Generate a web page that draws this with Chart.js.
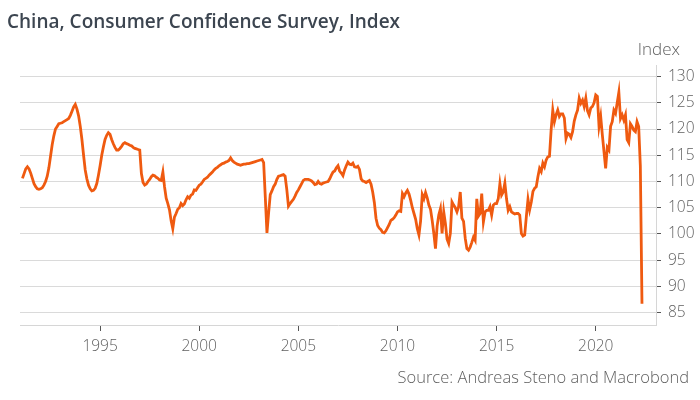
<!DOCTYPE html>
<html>
<head>
<meta charset="utf-8">
<script src="https://cdn.jsdelivr.net/npm/chart.js@4"></script>
<style>
  html, body { margin: 0; padding: 0; background: #fff; }
  #chart { display: block; }
</style>
</head>
<body>
<canvas id="chart" width="700" height="400"></canvas>
<script>
// ---------------- DATA (monthly, Jan 1991 - Apr 2022) ----------------
const startYear = 1991;
const xTicks = [1995, 2000, 2005, 2010, 2015, 2020];
const yTicks = [85, 90, 95, 100, 105, 110, 115, 120, 125, 130];

const cci1991to1996 = [
  110.6, 111.5, 112.4, 112.8, 112.4, 111.6, 110.6, 109.6, 109.0, 108.6, 108.5, 108.6,
  108.8, 109.3, 110.0, 111.0, 112.6, 114.8, 117.0, 118.7, 120.0, 120.5, 121.0, 121.1,
  121.2, 121.4, 121.6, 121.8, 122.0, 122.6, 123.4, 124.2, 124.7, 123.8, 122.5, 120.5,
  118.0, 115.0, 112.2, 110.5, 109.3, 108.6, 108.2, 108.3, 108.7, 109.6, 111.2, 113.0,
  115.0, 116.6, 118.0, 118.8, 119.3, 119.0, 118.0, 117.2, 116.5, 116.0, 116.0, 116.3,
  116.7, 117.2, 117.4, 117.2, 117.1, 116.9, 116.8, 116.5, 116.3, 116.2, 116.1, 116.0
];
const cci1997to2002 = [
  111.5, 109.8, 109.3, 109.5, 110.0, 110.4, 110.9, 111.2, 111.1, 110.8, 110.6, 110.3,
  110.2, 111.8, 109.0, 106.8, 105.8, 104.6, 102.5, 101.0, 103.2, 103.9, 104.7, 105.0,
  105.8, 105.4, 105.7, 106.5, 107.1, 106.8, 107.4, 107.6, 108.4, 108.3, 108.8, 109.3,
  109.5, 109.9, 110.4, 110.6, 110.8, 111.2, 111.5, 111.8, 112.2, 112.5, 112.7, 113.0,
  113.2, 113.4, 113.5, 113.7, 113.8, 114.0, 114.5, 114.0, 113.7, 113.5, 113.3, 113.2,
  113.1, 113.2, 113.3, 113.3, 113.4, 113.4, 113.5, 113.6, 113.7, 113.8, 113.9, 114.0
];
const cci2003to2008 = [
  114.1, 114.2, 113.6, 107.0, 100.2, 104.0, 107.5, 108.2, 109.0, 109.5, 110.4, 111.0,
  111.1, 111.2, 111.3, 111.0, 108.5, 105.3, 105.8, 106.2, 106.6, 107.2, 107.9, 108.4,
  109.0, 109.6, 110.2, 110.4, 110.4, 110.4, 110.3, 110.1, 109.8, 109.4, 109.5, 110.0,
  109.6, 109.5, 109.7, 109.8, 109.9, 110.0, 110.5, 111.2, 111.8, 112.0, 112.6, 113.0,
  112.0, 111.6, 111.1, 112.2, 113.0, 113.7, 113.3, 113.2, 113.5, 112.8, 112.7, 112.9,
  112.3, 110.5, 110.1, 110.0, 109.8, 110.0, 110.2, 109.5, 108.0, 106.0, 103.0, 101.6
];
const cci2009to2014 = [
  101.1, 100.8, 100.3, 100.2, 100.6, 101.2, 101.8, 102.6, 102.8, 103.1, 103.6, 104.2,
  104.4, 104.3, 107.7, 107.1, 107.8, 108.3, 107.6, 106.4, 105.0, 103.9, 102.8, 101.0,
  99.8, 102.5, 107.5, 106.7, 107.9, 106.9, 105.5, 104.7, 102.6, 100.1, 97.2, 101.5,
  103.6, 104.8, 100.1, 104.2, 102.0, 99.0, 98.2, 100.1, 106.1, 105.5, 105.0, 104.2,
  105.2, 108.0, 103.0, 102.4, 99.2, 97.2, 96.9, 97.5, 98.4, 99.4, 98.8, 106.7,
  103.4, 103.9, 107.7, 102.3, 104.2, 104.5, 104.5, 105.2, 103.6, 105.5, 105.8, 105.8
];
const cci2015to2020 = [
  106.7, 109.6, 107.4, 108.0, 109.7, 106.7, 104.5, 105.2, 104.2, 104.0, 103.8, 103.9,
  103.9, 103.6, 100.1, 99.6, 99.8, 103.3, 106.6, 104.6, 106.1, 108.1, 108.7, 109.0,
  110.9, 112.5, 111.9, 113.5, 112.8, 114.1, 114.7, 114.8, 119.8, 123.6, 121.4, 122.7,
  123.6, 122.4, 122.9, 122.9, 122.1, 118.2, 119.2, 119.0, 118.4, 119.5, 121.5, 122.7,
  123.6, 125.9, 124.9, 125.5, 124.3, 125.9, 123.5, 122.7, 124.0, 124.3, 125.0, 126.5,
  126.2, 120.5, 122.4, 118.9, 115.7, 112.5, 116.5, 116.0, 120.5, 121.4, 123.6, 123.0
];
const cci2021to2022 = [
  125.0, 127.0, 122.0, 122.7, 121.7, 122.7, 118.0, 117.4, 121.0, 120.5, 119.8, 119.5,
  121.4, 120.5, 113.0, 86.7
];

const cci = [].concat(cci1991to1996, cci1997to2002, cci2003to2008,
                      cci2009to2014, cci2015to2020, cci2021to2022);

// months plotted at month end, as decimal years
const points = cci.map((v, i) => ({ x: startYear + (i + 1) / 12, y: v }));

// ---------------- TEXT PLUGIN ----------------
const textPlugin = {
  id: 'texts',
  afterDraw(chart) {
    const ctx = chart.ctx;
    ctx.save();
    ctx.textBaseline = 'middle';

    ctx.fillStyle = '#3c4550';
    ctx.font = '600 19px "Open Sans"';
    ctx.textAlign = 'left';
    ctx.fillText('China, Consumer Confidence Survey, Index', 7, 23);

    ctx.fillStyle = '#5f5f5f';
    ctx.font = '300 17px "Open Sans"';
    ctx.textAlign = 'right';
    ctx.fillText('Index', 680, 50);

    ctx.font = '300 16.5px "Open Sans"';
    ctx.fillText('Source: Andreas Steno and Macrobond', 689, 378);
    ctx.restore();
  }
};

// ---------------- CHART ----------------
new Chart(document.getElementById('chart'), {
  type: 'line',
  data: {
    datasets: [{
      label: 'China, Consumer Confidence Survey',
      data: points,
      borderColor: '#ef5a10',
      borderWidth: 2.8,
      pointRadius: 0,
      tension: 0,
      fill: false
    }]
  },
  options: {
    responsive: false,
    animation: false,
    layout: { padding: { left: 20, right: 0, top: 65, bottom: 0 } },
    plugins: {
      legend: { display: false },
      title: { display: false },
      tooltip: { enabled: false }
    },
    scales: {
      x: {
        type: 'linear',
        min: 1990.96,
        max: 2023.04,
        afterBuildTicks: s => { s.ticks = xTicks.map(v => ({ value: v })); },
        afterFit: s => { s.height = 75; },
        grid: { drawOnChartArea: false, tickLength: 6, tickColor: '#555', tickWidth: 1 },
        border: { color: '#d6d6d6' },
        ticks: {
          color: '#5f5f5f',
          font: { family: 'Open Sans', size: 15.5, weight: 300 },
          padding: 6,
          maxRotation: 0,
          callback: v => String(v)
        }
      },
      y: {
        position: 'right',
        min: 82.65,
        max: 132.2,
        afterBuildTicks: s => { s.ticks = yTicks.map(v => ({ value: v })); },
        afterFit: s => { s.width = 44; },
        grid: { color: '#dadada', tickLength: 5, tickColor: '#555', tickWidth: 1 },
        border: { color: '#d6d6d6' },
        ticks: {
          color: '#5f5f5f',
          font: { family: 'Open Sans', size: 15.5, weight: 300 },
          padding: 7
        }
      }
    }
  },
  plugins: [textPlugin]
});
</script>
</body>
</html>
